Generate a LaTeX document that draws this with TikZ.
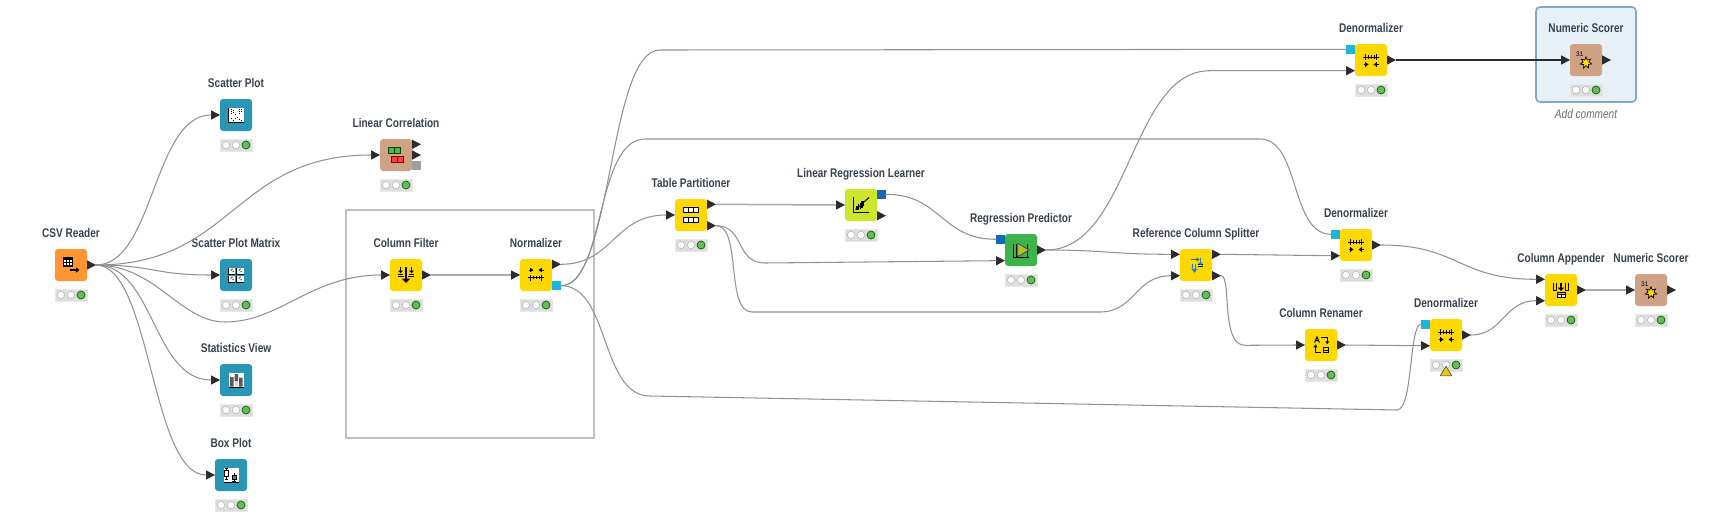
\documentclass[tikz,border=0pt]{standalone}
\usepackage{fontspec}
\setmainfont{Liberation Sans}
\newfontfamily\kttl{Liberation Sans}[FakeStretch=0.80]
\definecolor{kyellow}{HTML}{FFD800}
\definecolor{korange}{HTML}{FF9632}
\definecolor{kteal}{HTML}{2B96B3}
\definecolor{kbrown}{HTML}{D0A285}
\definecolor{klime}{HTML}{CCE62B}
\definecolor{kgreen}{HTML}{3CB44B}
\definecolor{kink}{HTML}{2B2B2B}
\definecolor{kcyan}{HTML}{1DB5DD}
\definecolor{kblue}{HTML}{1469B5}
\definecolor{kwire}{HTML}{929292}
\definecolor{kwires}{HTML}{ABABAB}
\definecolor{ktext}{HTML}{3A424E}
\definecolor{kframe}{HTML}{BDC1C6}
\definecolor{kpale}{HTML}{E8F0F7}
\definecolor{kedge}{HTML}{7FA8CC}
\definecolor{kwarn}{HTML}{E6C51F}
\definecolor{kwarnd}{HTML}{7A6A10}
\definecolor{kdot}{HTML}{69B85C}
\tikzset{
  kbox/.style={rectangle,rounded corners=3pt,minimum size=32pt,inner sep=0pt,outer sep=0pt},
  ktitle/.style={font=\kttl\bfseries\fontsize{12.6pt}{14pt}\selectfont,text=ktext,inner sep=0pt},
  ktraffic/.style={rectangle,minimum width=32pt,minimum height=12pt,inner sep=0pt,outer sep=0pt,fill=black!13,draw=black!9,line width=.5pt},
  ktri/.style={rectangle,inner sep=0pt,outer sep=0pt,minimum width=9pt,minimum height=9.4pt,
    path picture={\fill[kink] (path picture bounding box.north west) -- (path picture bounding box.east) -- (path picture bounding box.south west) -- cycle;}},
  ksq/.style={rectangle,inner sep=0pt,outer sep=0pt,minimum size=9pt,fill=#1},
  conn/.style={draw=kwire,line width=1.05pt,line cap=round},
  conns/.style={draw=kwires,line width=1.5pt},
  connb/.style={draw=kink,line width=2pt},
  ik/.style={line width=1pt,draw=black},
}
\newcommand\kNode[5]{%
  \node[kbox,fill=#4] (#1) at (#2,#3) {};
  \node[ktitle,anchor=base] (#1-t) at (#2,#3-27.6) {#5};
  \node[ktraffic] (#1-s) at (#2,#3+30) {};
  \begin{scope}[shift={(#1-s.center)}]
    \filldraw[fill=white,draw=black!28,line width=.6pt] (-10,0) circle (3.7pt) (0,0) circle (3.7pt);
    \filldraw[fill=kdot,draw=green!40!black,line width=.7pt] (10,0) circle (4pt);
  \end{scope}}
\newcommand\kOut[3]{\node[ktri] (#1-#3) at ([shift={(4.5,#2)}]#1.east) {};}
\newcommand\kInN[3]{\node[ktri] (#1-#3) at ([shift={(-4.5,#2)}]#1.west) {};}
\newcommand\kSqIn[4]{\node[ksq=#4] (#1-#3) at ([shift={(-4.5,#2)}]#1.west) {};}
\newcommand\kSqOut[4]{\node[ksq=#4] (#1-#3) at ([shift={(4.5,#2)}]#1.east) {};}
\newcommand\icoCSV{\filldraw[fill=white,ik] (-7.5,-7.5) rectangle (1.5,1.7);
  \fill (-7.5,-7.5) rectangle (1.5,-5);
  \draw[line width=.6pt] (-7.5,-2.5)--(1.5,-2.5) (-7.5,-.2)--(1.5,-.2) (-4.5,-5)--(-4.5,1.7) (-1.5,-5)--(-1.5,1.7);
  \draw[line width=1.4pt] (-1,5)--(6,5); \fill (5,2.3)--(8.4,5)--(5,7.7)--cycle;}
\newcommand\icoDots[4]{\fill[white] (#1,#2) rectangle (#3,#4);
  \draw[line width=.9pt] (#1,#2)--(#1,#4)--(#3,#4);}
\newcommand\icoSP{\icoDots{-7.5}{-7.5}{7.5}{7.5}
  \foreach \a/\b in {-5/-6,-5/-4,-5/-2,-3/-5,-3/-3,-1/-1,3/-6,5/-6,3/-4,5/-4,3/-2,1/2,3/4,5/5,-1/3,-5/3,-3/5}{\fill (\a-.5,\b-.5) rectangle (\a+.5,\b+.5);}}
\newcommand\icoSM{\foreach \x/\y in {-7.5/-7.5,.7/-7.5,-7.5/.7,.7/.7}{\icoDots{\x}{\y}{\x+6.8}{\y+6.8}
   \fill (\x+2,\y+2) rectangle +(1,1) (\x+4,\y+3.5) rectangle +(1,1) (\x+3,\y+1) rectangle +(1,1);}}
\newcommand\icoST{\fill[white] (-7.5,-7.5) rectangle (7.5,7.5);
  \fill[black!65] (-6,-3) rectangle (-2.5,6.5) (-1.5,-6) rectangle (2,1) (3,-2.5) rectangle (6.5,6.5);
  \fill[black!15] (-1.5,1) rectangle (2,6.5);\draw[line width=.9pt] (-7.5,7)--(7.5,7);}
\newcommand\icoBP{\fill[white] (-7.5,-7.5) rectangle (7.5,7.5);
  \draw[line width=.6pt] (-6.5,-7)--(-3,-7) (-4.7,-7)--(-4.7,4) (-6.5,4)--(-3,4);
  \filldraw[fill=white,draw=black,line width=.7pt] (-6.5,-4.5) rectangle (-3,1.5);
  \draw[line width=.6pt] (3,-2)--(3,6.5) (1.3,6.5)--(4.7,6.5);
  \filldraw[fill=black!55,draw=black,line width=.5pt] (.8,0) rectangle (5.2,4);
  \draw[line width=.9pt] (-7.5,7.5)--(7.5,7.5);}
\newcommand\icoLC{\filldraw[fill=green!50!black!65!white,draw=green!30!black,line width=.8pt] (-7.7,-7.7) rectangle (4.7,-1.7) (-1.5,-7.7)--(-1.5,-1.7);
  \filldraw[fill=red!75!white,draw=red!50!black,line width=.8pt] (-4.7,1) rectangle (7.7,7.7) (1.5,1)--(1.5,7.7);}
\newcommand\icoCF{\draw[line width=1.3pt] (0,-8)--(0,4); \fill (-4.2,3.5)--(4.2,3.5)--(0,8)--cycle;
  \draw[line width=1pt] (-8,-1)--(-3,-1) (3,-1)--(8,-1) (-8,1.3)--(-2,1.3) (2,1.3)--(8,1.3) (-5.5,-8)--(-5.5,-4) (5.5,-8)--(5.5,-4);
  \fill (-8,-4.5)--(-3,-4.5)--(-5.5,-1.7)--cycle (8,-4.5)--(3,-4.5)--(5.5,-1.7)--cycle;}
\newcommand\icoTicks[1]{\draw[line width=1pt] (-7.7,#1)--(8,#1) (-5.3,#1-3)--(-5.3,#1+3) (5.5,#1-3)--(5.5,#1+3) (0,#1-1.7)--(0,#1+1.7) (3,#1-1.7)--(3,#1+1.7) (-2.5,#1-1.7)--(-2.5,#1+1.7);}
\newcommand\icoMarks[1]{\draw[line width=1pt] (-7.5,#1)--(-3.5,#1) (7.5,#1)--(3.5,#1) (-5.3,#1-2.2)--(-5.3,#1+2.2) (5.3,#1-2.2)--(5.3,#1+2.2);
  \fill (-5.5,#1-2)--(-2.5,#1)--(-5.5,#1+2)--cycle (5.5,#1-2)--(2.5,#1)--(5.5,#1+2)--cycle;}
\newcommand\icoNM{\icoMarks{-5}\icoTicks{2.7}}
\newcommand\icoDN{\icoTicks{-3}\icoMarks{4.5}}
\newcommand\icoTP{\foreach \y in {-7.7,2.3}{\filldraw[fill=white,draw=black,line width=1pt] (-7.8,\y) rectangle (7.8,\y+5.3) (-2.6,\y)--(-2.6,\y+5.3) (2.6,\y)--(2.6,\y+5.3);}}
\newcommand\icoLR{\draw[line width=1pt] (-7.7,-8.3)--(-7.7,7.3)--(8,7.3);
  \draw[line width=1pt] (-5.5,4.5)--(8,-7.5);
  \draw[line width=1.2pt] (-4,5)--(-4,1) (-2.5,5)--(-2.5,-1) (-.5,4)--(-.5,-2.5) (1,3)--(1,-4) (2.5,1)--(2.5,-4.5);}
\newcommand\icoRP{\draw[line width=1pt] (-7.7,-6.5)--(-7.7,7.3)--(8,7.3) (-4.5,7.3)--(-4.5,-6.5) (6,-6)--(6,7.3);
  \filldraw[fill=klime!85!black,draw=black!70,line width=.8pt] (-3.3,-6.7)--(8,0)--(-3.3,6.7)--cycle;}
\newcommand\icoRS{\draw[green!50!black,line width=1pt] (-5,-5.5)--(1,-5.5);\fill[green!50!black] (.5,-7.5)--(3.5,-5.5)--(.5,-3.5)--cycle;
  \draw[black,line width=1pt] (2,-1)--(7,-1) (2,1)--(7,1);
  \draw[kcyan!70!blue,line width=1.2pt] (4.3,-7.5)--(4.3,-2);\fill[kcyan!70!blue] (1.8,-2.5)--(6.8,-2.5)--(4.3,.3)--cycle;
  \draw[kcyan!70!blue,line width=1.6pt] (-.5,-1.5)--(-.5,5);\draw[kcyan!70!blue,line width=.8pt] (-3.5,-1.5)--(-3.5,3);\fill[kcyan!70!blue] (-4.8,3.5)--(1.5,3.5)--(-1.5,7.8)--cycle;}
\newcommand\icoRN{\draw[line width=1pt] (-6.5,-2.5)--(-4,-8)--(-1.5,-2.5) (-5.5,-4.5)--(-2.5,-4.5);
  \draw[line width=1pt] (0,-7.5)--(6.3,-7.5)--(6.3,-3);\fill (4.3,-3.7)--(8.3,-3.7)--(6.3,-.8)--cycle;
  \draw[line width=1pt] (-5.5,1.5)--(-5.5,7.3)--(0,7.3);\fill (-7.5,2.3)--(-3.5,2.3)--(-5.5,-.6)--cycle;
  \draw[line width=1pt] (2.8,2.5) rectangle (7.2,7.5) (2.8,5)--(7.2,5);}
\newcommand\icoCA{\draw[line width=1pt] (-7.7,-7.5)--(-7.7,0)--(-4.5,0)--(-4.5,-7.5) (4.5,-7.5)--(4.5,0)--(7.7,0)--(7.7,-7.5);
  \draw[line width=1.5pt] (0,-7.5)--(0,-2);\fill (-3.3,-2.5)--(3.3,-2.5)--(0,1)--cycle;
  \filldraw[fill=white,draw=black,line width=1pt] (-4,2) rectangle (4,7.5);\fill[orange!70!red!60!white] (-3.5,2.5) rectangle (3.5,4.5);\draw[line width=.8pt] (-4,4.7)--(4,4.7);\draw[line width=.8pt] (0,4.7)--(0,7.5);}
\newcommand\icoNS{\node[font=\fontsize{6.6pt}{7pt}\selectfont,inner sep=0pt,text=black] (\kcur-n) at (-6.2,-5.5) {31};
  \draw[fill=kyellow,draw=black,line width=.7pt,line join=miter] plot[samples at={0,1,...,13},variable=\k] ({(iseven(\k)?5.8:3)*cos(\k*360/14+12)},{2.7+(iseven(\k)?5.8:3)*sin(\k*360/14+12)}) -- cycle;}
\newcommand\kIcon[2]{\begin{scope}[shift={(#1.center)}]\def\kcur{#1}#2\end{scope}}
\begin{document}
\begin{tikzpicture}[x=1pt,y=-1pt]
\useasboundingbox (0,0) rectangle (1728,520);
\fill[white] (0,0) rectangle (1728,520);
% frames
\draw[draw=kframe,line width=2pt] (346,210) rectangle (594,438);
\draw[fill=kpale,draw=kedge,line width=1.6pt,rounded corners=4pt] (1536,7) rectangle (1636,102);
% nodes
\kNode{csv}{71}{265}{korange}{CSV Reader}
\kNode{sp}{236}{115}{kteal}{Scatter Plot}
\kNode{sm}{236}{275}{kteal}{Scatter Plot Matrix}
\kNode{st}{236}{380}{kteal}{Statistics View}
\kNode{bp}{231}{475}{kteal}{Box Plot}
\kNode{lc}{396}{155}{kbrown}{Linear Correlation}
\kNode{cf}{406}{275}{kyellow}{Column Filter}
\kNode{nm}{536}{275}{kyellow}{Normalizer}
\kNode{tp}{691}{215}{kyellow}{Table Partitioner}
\kNode{lr}{861}{205}{klime}{Linear Regression Learner}
\kNode{rp}{1021}{250}{kgreen}{Regression Predictor}
\kNode{rs}{1196}{265}{kyellow}{Reference Column Splitter}
\kNode{dt}{1371}{60}{kyellow}{Denormalizer}
\kNode{ns}{1586}{60}{kbrown}{Numeric Scorer}
\kNode{dm}{1356}{245}{kyellow}{Denormalizer}
\kNode{rn}{1321}{345}{kyellow}{Column Renamer}
\kNode{dl}{1446}{335}{kyellow}{Denormalizer}
\kNode{ca}{1561}{290}{kyellow}{Column Appender}
\kNode{nb}{1651}{290}{kbrown}{Numeric Scorer}
\node[font=\kttl\itshape\fontsize{12.6pt}{14pt}\selectfont,text=black!58,inner sep=0pt,anchor=base] (cmt) at (1586,118.5) {Add comment};
% warning
\draw[fill=kwarn,draw=kwarnd,line width=.8pt,line join=round] (1446,366.3)--(1451.8,375.7)--(1440.2,375.7)--cycle;
% icons
\kIcon{csv}{\icoCSV}\kIcon{sp}{\icoSP}\kIcon{sm}{\icoSM}\kIcon{st}{\icoST}\kIcon{bp}{\icoBP}
\kIcon{lc}{\icoLC}\kIcon{cf}{\icoCF}\kIcon{nm}{\icoNM}\kIcon{tp}{\icoTP}\kIcon{lr}{\icoLR}
\kIcon{rp}{\icoRP}\kIcon{rs}{\icoRS}\kIcon{dt}{\icoDN}\kIcon{dm}{\icoDN}\kIcon{dl}{\icoDN}
\kIcon{rn}{\icoRN}\kIcon{ca}{\icoCA}\kIcon{ns}{\icoNS}\kIcon{nb}{\icoNS}
% ports
\kOut{csv}{0}{o}
\kInN{sp}{0}{i}\kInN{sm}{0}{i}\kInN{st}{0}{i}\kInN{bp}{0}{i}
\kInN{lc}{0}{i}\kOut{lc}{-10.7}{o1}\kOut{lc}{0}{o2}\kSqOut{lc}{10.7}{o3}{black!38}
\kInN{cf}{0}{i}\kOut{cf}{0}{o}
\kInN{nm}{0}{i}\kOut{nm}{-10.7}{o1}\kSqOut{nm}{10.7}{f}{kcyan}
\kInN{tp}{0}{i}\kOut{tp}{-10.7}{o1}\kOut{tp}{10.7}{o2}
\kInN{lr}{0}{i}\kSqOut{lr}{-10.7}{f}{kblue}\kOut{lr}{10.7}{o2}
\kSqIn{rp}{-10.7}{f}{kblue}\kInN{rp}{10.7}{i}\kOut{rp}{0}{o}
\kInN{rs}{-10.7}{i1}\kInN{rs}{10.7}{i2}\kOut{rs}{-10.7}{o1}\kOut{rs}{10.7}{o2}
\kSqIn{dt}{-10.7}{f}{kcyan}\kInN{dt}{10.7}{i}\kOut{dt}{0}{o}
\kSqIn{dm}{-10.7}{f}{kcyan}\kInN{dm}{10.7}{i}\kOut{dm}{0}{o}
\kSqIn{dl}{-10.7}{f}{kcyan}\kInN{dl}{10.7}{i}\kOut{dl}{0}{o}
\kInN{rn}{0}{i}\kOut{rn}{0}{o}
\kInN{ca}{-10.7}{i1}\kInN{ca}{10.7}{i2}\kOut{ca}{0}{o}
\kInN{ns}{0}{i}\kOut{ns}{0}{o}
\kInN{nb}{0}{i}\kOut{nb}{0}{o}
% bend coordinates
\coordinate (b1) at (225,322);
\coordinate (b2) at (660,50);
\coordinate (b3) at (645,139);
\coordinate (b4) at (1260,139);
\coordinate (b5) at (650,396);
\coordinate (b6) at (1397,410);
\coordinate (b7) at (765,263);
\coordinate (b8) at (752,312);
\coordinate (b9) at (1100,312);
\coordinate (b10) at (1210,70.7);
\coordinate (b11) at (1245,345.3);
% connectors
\draw[conn] (csv-o.east) .. controls +(58,0) and +(-58,0) .. (sp-i.west);
\draw[conn] (csv-o.east) .. controls +(138,0) and +(-138,0) .. (lc-i.west);
\draw[conn] (csv-o.east) .. controls +(58,0) and +(-58,0) .. (sm-i.west);
\draw[conn] (csv-o.east) .. controls +(60,0) and +(-45,0) .. (b1) .. controls +(55,0) and +(-70,0) .. (cf-i.west);
\draw[conn] (csv-o.east) .. controls +(58,0) and +(-58,0) .. (st-i.west);
\draw[conn] (csv-o.east) .. controls +(55,0) and +(-55,0) .. (bp-i.west);
\draw[conns] (cf-o.east) -- (nm-i.west);
\draw[conn] (nm-o1.east) .. controls +(52,0) and +(-52,0) .. (tp-i.west);
\draw[conn] (nm-f.east) .. controls +(52,0) and +(-52,0) .. (b2) -- (dt-f.west);
\draw[conn] (nm-f.east) .. controls +(44,0) and +(-50,0) .. (b3) -- (b4) .. controls +(40,0) and +(-41,0) .. (dm-f.west);
\draw[conn] (nm-f.east) .. controls +(49,0) and +(-50,0) .. (b5) -- (b6) .. controls +(16,0) and +(-12,0) .. (dl-f.west);
\draw[conns] (tp-o1.east) -- (lr-i.west);
\draw[conn] (tp-o2.east) .. controls +(29,0) and +(-30,0) .. (b7) -- (rp-i.west);
\draw[conn] (tp-o2.east) .. controls +(26,0) and +(-27,0) .. (b8) -- (b9) .. controls +(35,0) and +(-36,0) .. (rs-i2.west);
\draw[conn] (lr-f.east) .. controls +(55,0) and +(-55,0) .. (rp-f.west);
\draw[conn] (rp-o.east) .. controls +(84,0) and +(-80,0) .. (b10) -- (dt-i.west);
\draw[conn] (rp-o.east) .. controls +(60,0) and +(-60,0) .. (rs-i1.west);
\draw[conn] (rs-o1.east) -- (dm-i.west);
\draw[conn] (rs-o2.east) .. controls +(11,0) and +(-25,0) .. (b11) -- (rn-i.west);
\draw[conn] (rn-o.east) -- (dl-i.west);
\draw[conn] (dm-o.east) .. controls +(78,0) and +(-78,0) .. (ca-i1.west);
\draw[conn] (dl-o.east) .. controls +(32,0) and +(-32,0) .. (ca-i2.west);
\draw[conns] (ca-o.east) -- (nb-i.west);
\draw[connb] (dt-o.east) -- (ns-i.west);
\end{tikzpicture}
\end{document}
